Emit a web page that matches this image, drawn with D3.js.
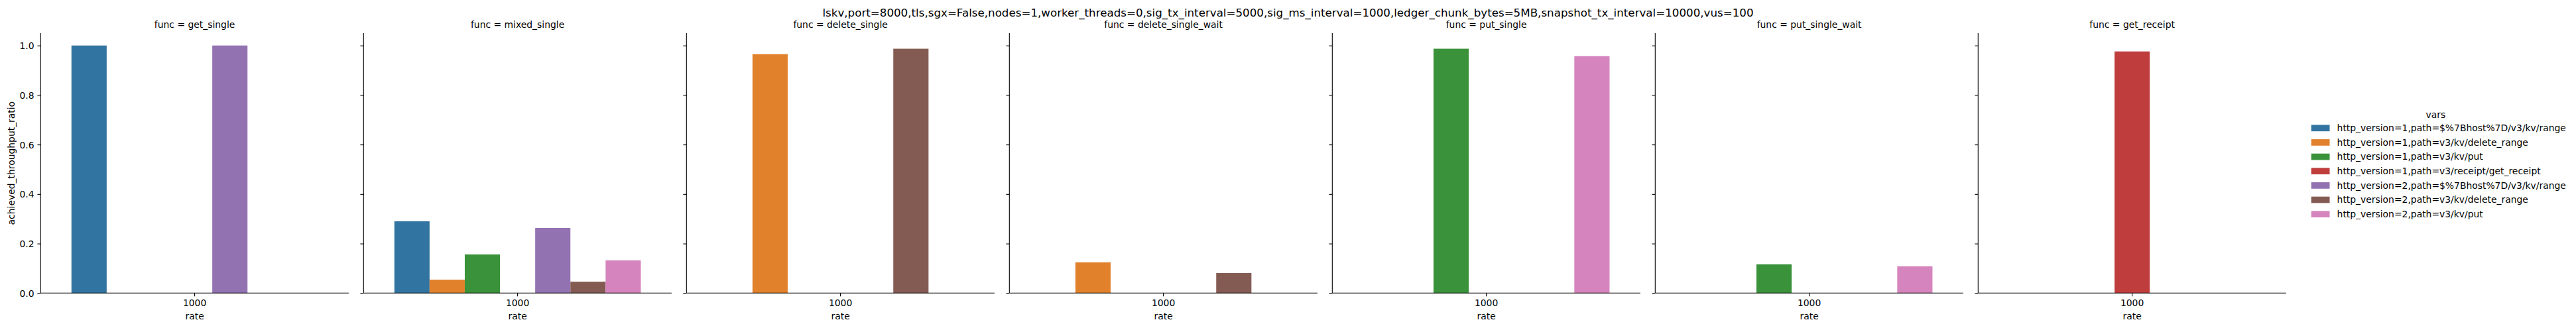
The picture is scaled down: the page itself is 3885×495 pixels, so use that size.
<!DOCTYPE html>
<html>
<head>
<meta charset="utf-8">
<script src="https://cdn.jsdelivr.net/npm/d3@7"></script>
<style>
  body { margin: 0; background: #fff; }
  text { font-family: "DejaVu Sans", sans-serif; fill: #000; }
</style>
</head>
<body>
<div id="chart"></div>
<script>
const suptitle = "lskv,port=8000,tls,sgx=False,nodes=1,worker_threads=0,sig_tx_interval=5000,sig_ms_interval=1000,ledger_chunk_bytes=5MB,snapshot_tx_interval=10000,vus=100";
const funcs = ["get_single", "mixed_single", "delete_single", "delete_single_wait", "put_single", "put_single_wait", "get_receipt"];
const rates = ["1000"];
const vars = [
  "http_version=1,path=$%7Bhost%7D/v3/kv/range",
  "http_version=1,path=v3/kv/delete_range",
  "http_version=1,path=v3/kv/put",
  "http_version=1,path=v3/receipt/get_receipt",
  "http_version=2,path=$%7Bhost%7D/v3/kv/range",
  "http_version=2,path=v3/kv/delete_range",
  "http_version=2,path=v3/kv/put"
];
const colors = ["#3274a1", "#e1812c", "#3a923a", "#c03d3e", "#9372b2", "#845b53", "#d684bd"];
// one row per func, one value per var (null = no bar)
const getSingle = [1.0, null, null, null, 1.0, null, null];
const mixedSingle = [0.290, 0.054, 0.156, null, 0.263, 0.046, 0.132];
const deleteSingle = [null, 0.965, null, null, null, 0.987, null];
const deleteSingleWait = [null, 0.124, null, null, null, 0.081, null];
const putSingle = [null, null, 0.987, null, null, null, 0.957];
const putSingleWait = [null, null, 0.116, null, null, null, 0.108];
const getReceipt = [null, null, null, 0.976, null, null, null];
const values = [getSingle, mixedSingle, deleteSingle, deleteSingleWait, putSingle, putSingleWait, getReceipt];
const yTicks = [0.0, 0.2, 0.4, 0.6, 0.8, 1.0];

const W = 3885, H = 495;
const panelW = 464.6, panelStep = 487, left0 = 61.3;
const axTop = 50, axBottom = 442.3;

const svg = d3.select("#chart").append("svg")
  .attr("width", W).attr("height", H);

const y = d3.scaleLinear().domain([0, 1.05]).range([axBottom, axTop]);
const x = d3.scaleBand().domain(rates).range([0, panelW]).padding(0);
const color = d3.scaleOrdinal().domain(vars).range(colors);

svg.append("text")
  .attr("x", W / 2).attr("y", 25)
  .attr("text-anchor", "middle")
  .style("font-size", "16.7px")
  .text(suptitle);

funcs.forEach((f, k) => {
  const g = svg.append("g")
    .attr("transform", `translate(${left0 + k * panelStep},0)`);

  const hue = d3.scaleBand().domain(vars)
    .range([x("1000") + x.bandwidth() * 0.1, x("1000") + x.bandwidth() * 0.9]);

  const rows = vars.map((v, i) => ({ v, val: values[k][i] })).filter(d => d.val != null);
  g.selectAll("rect.bar").data(rows).join("rect")
    .attr("class", "bar")
    .attr("x", d => hue(d.v))
    .attr("width", hue.bandwidth())
    .attr("y", d => y(d.val))
    .attr("height", d => y(0) - y(d.val))
    .attr("fill", d => color(d.v));

  // y axis
  const ya = g.append("g")
    .call(d3.axisLeft(y).tickValues(yTicks).tickSize(4.9).tickPadding(4.9)
      .tickFormat(k === 0 ? d3.format(".1f") : ""));
  ya.select(".domain").attr("d", `M0,${axBottom}V${axTop}`).attr("stroke-width", 1.1);
  ya.selectAll(".tick line").attr("stroke-width", 1.1);
  ya.selectAll(".tick text").style("font-size", "13.9px").attr("dy", "0.35em").attr("fill", "#000");

  // x axis
  const xa = g.append("g")
    .attr("transform", `translate(0,${axBottom})`)
    .call(d3.axisBottom(x).tickSize(4.9).tickPadding(4.9));
  xa.select(".domain").attr("d", `M0,0H${panelW}`).attr("stroke-width", 1.1);
  xa.selectAll(".tick line").attr("stroke-width", 1.1);
  xa.selectAll(".tick text").style("font-size", "13.9px").attr("dy", "0.71em").attr("fill", "#000");

  g.append("text")
    .attr("x", panelW / 2).attr("y", 481.7)
    .attr("text-anchor", "middle")
    .style("font-size", "13.9px")
    .text("rate");

  g.append("text")
    .attr("x", panelW / 2).attr("y", 41.7)
    .attr("text-anchor", "middle")
    .style("font-size", "13.9px")
    .text("func = " + f);
});

svg.append("text")
  .attr("transform", `translate(21.5,${(axTop + axBottom) / 2}) rotate(-90)`)
  .attr("text-anchor", "middle")
  .style("font-size", "13.9px")
  .text("achieved_throughput_ratio");

// legend
const lg = svg.append("g").attr("transform", "translate(3485.7,0)");
lg.append("text")
  .attr("x", 187.6).attr("y", 178)
  .attr("text-anchor", "middle")
  .style("font-size", "13.9px")
  .text("vars");
const items = lg.selectAll("g.item").data(vars).join("g")
  .attr("class", "item")
  .attr("transform", (d, i) => `translate(0,${193.3 + i * 21.65})`);
items.append("rect")
  .attr("x", 0).attr("y", -4.85)
  .attr("width", 27.8).attr("height", 9.7)
  .attr("fill", d => color(d));
items.append("text")
  .attr("x", 38.9).attr("y", 0)
  .attr("dy", "0.35em")
  .style("font-size", "13.9px")
  .text(d => d);
</script>
</body>
</html>
